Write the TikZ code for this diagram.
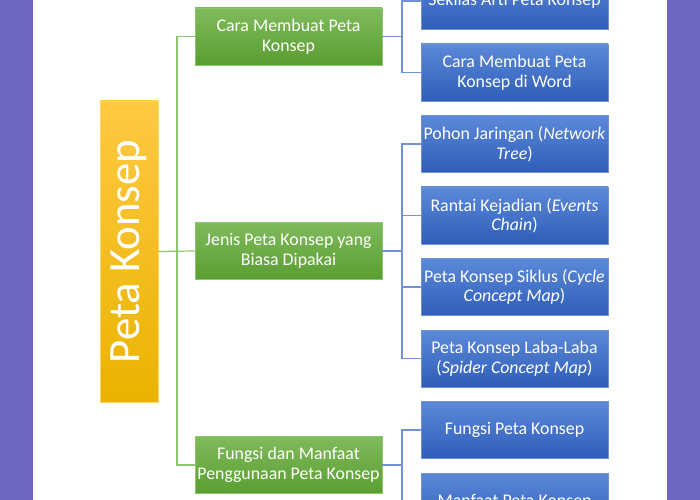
\documentclass[tikz,border=0pt]{standalone}
\usepackage{fontspec}
\setmainfont{Carlito}
\usepackage{xcolor}
\definecolor{bandpurple}{HTML}{6E66C1}
\definecolor{greentop}{HTML}{80BA5C}
\definecolor{greenbot}{HTML}{5A9E32}
\definecolor{greenline}{HTML}{8CC66E}
\definecolor{bluetop}{HTML}{5C89D8}
\definecolor{bluebot}{HTML}{2E5DB9}
\definecolor{blueline}{HTML}{6F93D6}
\definecolor{goldtop}{HTML}{FFC943}
\definecolor{goldbot}{HTML}{E9B300}

\begin{document}
\begin{tikzpicture}[x=1bp,y=-1bp,
  greenbox/.style={rectangle,minimum width=187bp,minimum height=57bp,inner sep=0pt,
    top color=greentop,bottom color=greenbot,draw=greenline,line width=0.8bp,
    text=white,align=center,font=\fontsize{17.9}{19.6}\selectfont},
  bluebox/.style={rectangle,minimum width=187bp,minimum height=57bp,inner sep=0pt,
    top color=bluetop,bottom color=bluebot,draw=blueline,line width=0.8bp,
    text=white,align=center,font=\fontsize{17.9}{19.6}\selectfont},
  rootbox/.style={rectangle,minimum width=58bp,minimum height=301bp,inner sep=0pt,
    top color=goldtop,bottom color=goldbot,draw=goldtop!80!white,line width=0.8bp},
  gline/.style={draw=greenline,line width=1.2bp},
  bline/.style={draw=blueline,line width=1.2bp}]
\useasboundingbox (0,0) rectangle (700,500);
\fill[bandpurple] (0,0) rectangle (33,500);
\fill[bandpurple] (667,0) rectangle (700,500);

% root
\draw (129,251.5) node[rootbox](root) {};
\draw (129,251.5) node[rotate=90,text=white,font=\fontsize{45}{50}\selectfont](roottext) {Peta Konsep};

% second level
\draw (288.5,36.5) node[greenbox](cara) {Cara Membuat Peta\\Konsep};
\draw (288.5,251) node[greenbox](jenis) {Jenis Peta Konsep yang\\Biasa Dipakai};
\draw (288.5,465) node[greenbox](fungsi) {Fungsi dan Manfaat\\Penggunaan Peta Konsep};

% third level
\draw (514.5,1) node[bluebox](sekilas) {Sekilas Arti Peta Konsep};
\draw (514.5,72.5) node[bluebox](word) {Cara Membuat Peta\\Konsep di Word};
\draw (514.5,144) node[bluebox](pohon) {Pohon Jaringan (\textit{Network}\\\textit{Tree})};
\draw (514.5,215.5) node[bluebox](rantai) {Rantai Kejadian (\textit{Events}\\\textit{Chain})};
\draw (514.5,287) node[bluebox](siklus) {Peta Konsep Siklus (\textit{Cycle}\\\textit{Concept Map})};
\draw (514.5,358.5) node[bluebox](laba) {Peta Konsep Laba-Laba\\(\textit{Spider Concept Map})};
\draw (514.5,430) node[bluebox](fpk) {Fungsi Peta Konsep};
\draw (514.5,501.5) node[bluebox](mpk) {Manfaat Peta Konsep};

% trunks
\coordinate (gtrunk) at (177,251);
\coordinate (btrunkA) at (402,36.5);
\coordinate (btrunkB) at (402,251);
\coordinate (btrunkC) at (402,465);

\draw[gline] (root.east) -- (jenis.west);
\draw[gline] (cara.west) -| (gtrunk) |- (fungsi.west);

\draw[bline] (cara.east) -- (btrunkA);
\draw[bline] (sekilas.west) -| (btrunkA) |- (word.west);
\draw[bline] (jenis.east) -- (btrunkB);
\draw[bline] (pohon.west) -| (btrunkB) |- (laba.west);
\draw[bline] (rantai.west) -- (rantai.west -| btrunkB);
\draw[bline] (siklus.west) -- (siklus.west -| btrunkB);
\draw[bline] (fungsi.east) -- (btrunkC);
\draw[bline] (fpk.west) -| (btrunkC) |- (mpk.west);
\end{tikzpicture}
\end{document}
